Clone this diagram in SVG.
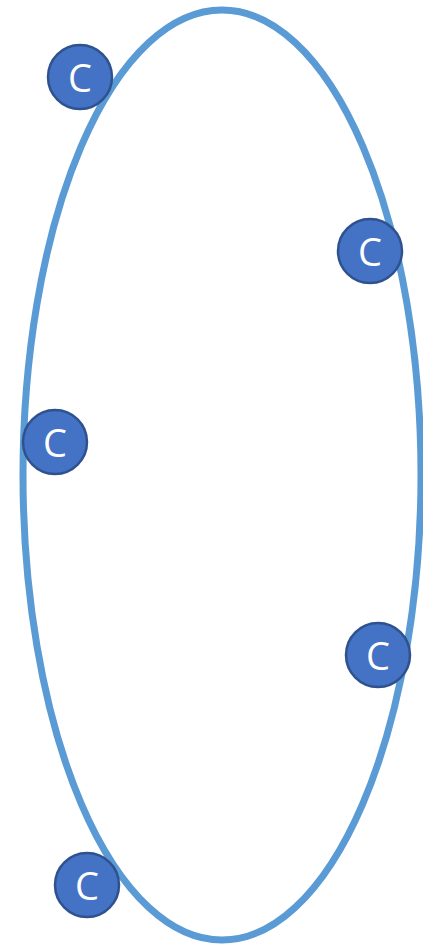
<svg xmlns="http://www.w3.org/2000/svg" width="423" height="947" viewBox="0 0 423 947">
<style>
.node circle{fill:#4472C4;stroke:#2F528F;stroke-width:2.5}
.node text{fill:#ffffff;font-family:"Open Sans","Liberation Sans",sans-serif;font-size:38px;text-anchor:middle;dominant-baseline:central}
</style>
<rect width="423" height="947" fill="#ffffff"/>
<g id="connectors">
<ellipse cx="222" cy="475" rx="199" ry="465" fill="none" stroke="#5B9BD5" stroke-width="7"/>
</g>
<g id="c1" class="node"><circle cx="80" cy="77" r="32"/><text x="80" y="77">C</text></g>
<g id="c2" class="node"><circle cx="370" cy="251" r="32"/><text x="370" y="251">C</text></g>
<g id="c3" class="node"><circle cx="55" cy="442" r="32"/><text x="55" y="442">C</text></g>
<g id="c4" class="node"><circle cx="378" cy="655" r="32"/><text x="378" y="655">C</text></g>
<g id="c5" class="node"><circle cx="87" cy="885" r="32"/><text x="87" y="885">C</text></g>
</svg>
